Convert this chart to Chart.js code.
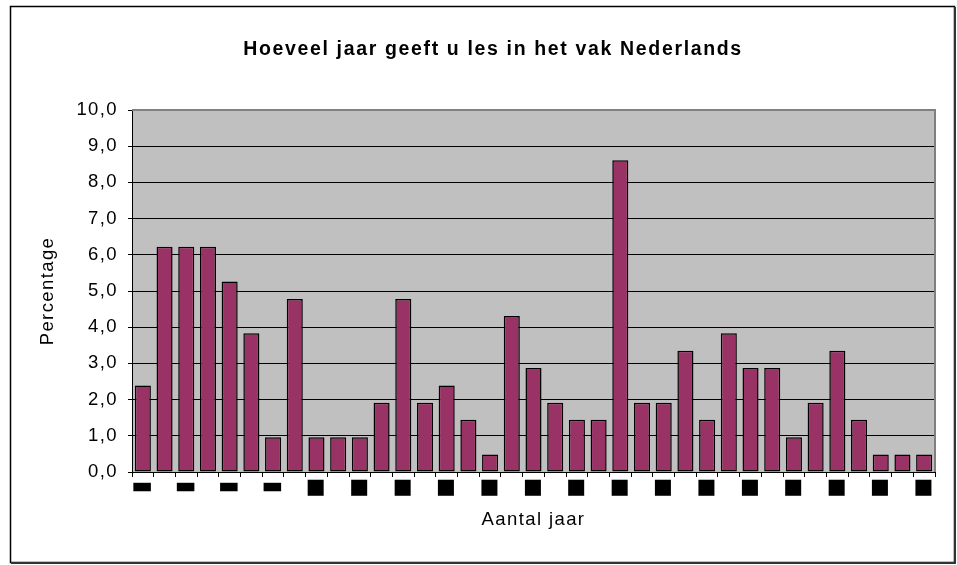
<!DOCTYPE html>
<html>
<head>
<meta charset="utf-8">
<script src="https://cdn.jsdelivr.net/npm/chart.js@4/dist/chart.umd.min.js"></script>
<style>
  html, body { margin: 0; padding: 0; background: #fff; }
  #wrap { width: 957px; height: 565px; position: relative; }
</style>
</head>
<body>
<div id="wrap"><canvas id="grafiek"></canvas></div>
<script>
// aantal jaar (categorieen)
const jaren = [];
for (let j = 1; j <= 37; j++) jaren.push(String(j));

// percentages per categorie
const percentages = [
  2.39, 6.22, 6.22, 6.22, 5.26, 3.83, 0.96, 4.78, 0.96, 0.96,
  0.96, 1.91, 4.78, 1.91, 2.39, 1.44, 0.48, 4.31, 2.87, 1.91,
  1.44, 1.44, 8.61, 1.91, 1.91, 3.35, 1.44, 3.83, 2.87, 2.87,
  0.96, 1.91, 3.35, 1.44, 0.48, 0.48, 0.48
];

// labels onder de x-as: in het origineel als blokjes weergegeven
const xLabels = [
  "▬", "", "▬", "", "▬", "", "▬", "", "■", "", "■", "", "■", "", "■", "", "■", "",
  "■", "", "■", "", "■", "", "■", "", "■", "", "■", "", "■", "", "■", "", "■", "", "■"
];

const yTicks = [0, 1, 2, 3, 4, 5, 6, 7, 8, 9, 10];

const titel = "Hoeveel jaar geeft u les in het vak Nederlands";

const FONT = "'Liberation Sans', Arial, sans-serif";

// iets ruimere letterafstand, zoals in het origineel
const letterafstand = {
  id: "letterafstand",
  beforeUpdate(chart) { chart.ctx.letterSpacing = "1.4px"; },
  beforeDraw(chart) { chart.ctx.letterSpacing = "1.4px"; }
};

// achtergrond, kader rond de grafiek, grijze plotvlak en titel
const achtergrond = {
  id: "achtergrond",
  beforeDraw(chart) {
    const { ctx, chartArea: a } = chart;
    ctx.save();
    ctx.fillStyle = "#fff";
    ctx.fillRect(0, 0, chart.width, chart.height);
    // buitenkader
    ctx.strokeStyle = "#000";
    ctx.lineWidth = 1.5;
    ctx.strokeRect(10.5, 6.5, 944, 556);
    ctx.strokeStyle = "#333";
    ctx.lineWidth = 2;
    ctx.beginPath();
    ctx.moveTo(955, 7); ctx.lineTo(955, 563); ctx.lineTo(11, 563);
    ctx.stroke();
    // plotvlak
    ctx.fillStyle = "#c0c0c0";
    ctx.fillRect(a.left, a.top, a.right - a.left, a.bottom - a.top);
    ctx.restore();
  },
  beforeDatasetsDraw(chart) {
    const { ctx, chartArea: a } = chart;
    ctx.save();
    ctx.strokeStyle = "#808080";
    ctx.lineWidth = 2;
    ctx.beginPath();
    ctx.moveTo(a.left, a.top);
    ctx.lineTo(a.right, a.top);
    ctx.lineTo(a.right, a.bottom);
    ctx.stroke();
    ctx.restore();
  },
  afterDraw(chart) {
    const ctx = chart.ctx;
    ctx.save();
    ctx.letterSpacing = "1.65px";
    ctx.fillStyle = "#000";
    ctx.font = "bold 19.5px " + FONT;
    ctx.textAlign = "center";
    ctx.textBaseline = "middle";
    ctx.fillText(titel, 493, 50);
    ctx.restore();
  }
};

new Chart(document.getElementById("grafiek"), {
  type: "bar",
  data: {
    labels: jaren,
    datasets: [{
      label: "Percentage",
      data: percentages,
      backgroundColor: "#993366",
      borderColor: "#000",
      borderWidth: 1.5,
      borderSkipped: false,
      barPercentage: 0.74,
      categoryPercentage: 1
    }]
  },
  options: {
    responsive: true,
    maintainAspectRatio: false,
    animation: false,
    layout: { padding: { left: 0, right: 22, top: 110, bottom: 0 } },
    plugins: {
      legend: { display: false },
      tooltip: { enabled: false },
      title: { display: false }
    },
    scales: {
      x: {
        afterFit(scale) { scale.height = 93; },
        grid: {
          drawOnChartArea: false,
          drawTicks: true,
          tickLength: 5,
          tickColor: "#000",
          offset: true
        },
        border: { display: true, color: "#000", width: 1 },
        ticks: {
          autoSkip: false,
          maxRotation: 0,
          minRotation: 0,
          padding: 0,
          color: "#000",
          font: (c) => (c.index < 8
            ? { family: "'DejaVu Sans'", size: 23, lineHeight: 0.87 }
            : { family: "'DejaVu Sans'", size: 21, lineHeight: 1.0 }),
          callback: (v, i) => xLabels[i]
        },
        title: {
          display: true,
          text: "Aantal jaar",
          color: "#000",
          font: { family: FONT, size: 18.5 },
          padding: { top: 0, bottom: 34 }
        }
      },
      y: {
        min: 0,
        max: 10,
        afterFit(scale) { scale.width = 132; },
        afterBuildTicks(scale) { scale.ticks = yTicks.map(v => ({ value: v })); },
        grid: {
          color: (c) => (c.tick && c.tick.value === 10 ? "rgba(0,0,0,0)" : "#000"),
          lineWidth: 1,
          drawTicks: true,
          tickLength: 4,
          tickColor: "#000"
        },
        border: { display: true, color: "#000", width: 1 },
        ticks: {
          padding: 10,
          color: "#000",
          font: { family: FONT, size: 18.5 },
          callback: (v) => v.toFixed(1).replace(".", ",")
        },
        title: {
          display: true,
          text: "Percentage",
          color: "#000",
          font: { family: FONT, size: 18.5 },
          padding: { top: 37, bottom: 0 }
        }
      }
    }
  },
  plugins: [letterafstand, achtergrond]
});
</script>
</body>
</html>
